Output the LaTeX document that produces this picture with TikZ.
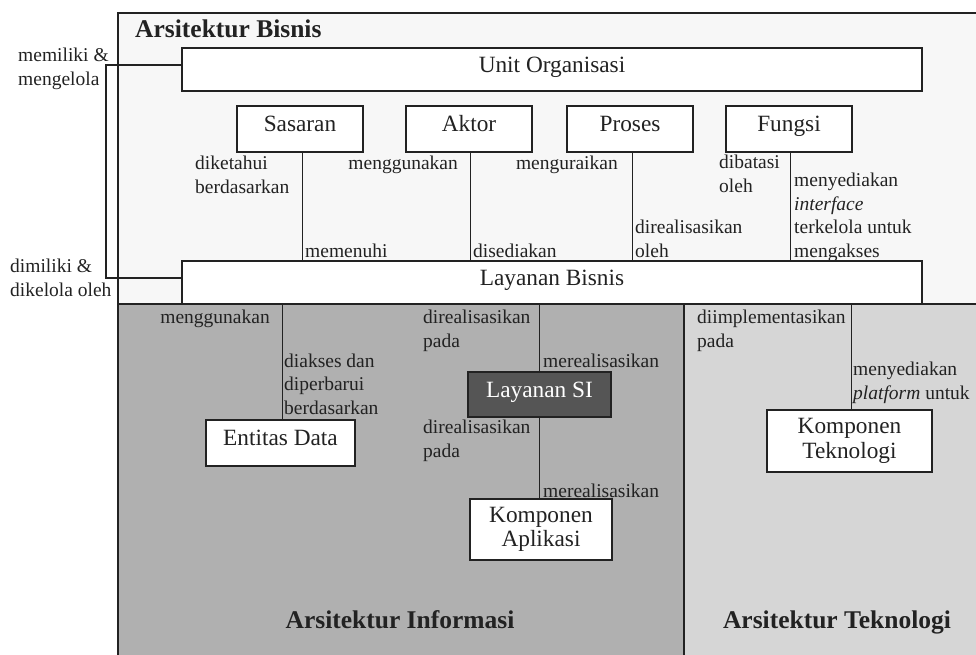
\documentclass[tikz,border=0pt]{standalone}
\usepackage{fontspec}
\setmainfont{Liberation Serif}
\newcommand\bxfnt{\fontsize{23.3}{24.5}\selectfont}
\newcommand\lbfnt{\fontsize{19.5}{23.5}\selectfont}
\newcommand\ttlfnt{\fontsize{25.5}{28}\selectfont\bfseries}
\definecolor{bizbg}{HTML}{F7F7F7}
\definecolor{infobg}{HTML}{B0B0B0}
\definecolor{techbg}{HTML}{D6D6D6}
\definecolor{sibg}{HTML}{555555}
\definecolor{ink}{HTML}{222222}
\begin{document}
\begin{tikzpicture}[x=1pt,y=-1pt,
  region/.style={draw=ink,line width=1.1pt},
  box/.style={draw=ink,fill=white,line width=1.1pt,inner sep=0pt,font=\bxfnt,text=ink,align=center},
  onebox/.style={box,text height=16pt,text depth=11pt},
  lbl/.style={inner sep=0pt,align=left,font=\lbfnt,text=ink},
  ttl/.style={inner sep=0pt,font=\ttlfnt,text=ink},
  conn/.style={draw=ink,line width=1pt}]
\useasboundingbox (0,0) rectangle (976,654);
% regions
\fill[bizbg] (118,13) rectangle (980,304);
\fill[infobg] (118,304) rectangle (684,660);
\fill[techbg] (684,304) rectangle (980,660);
\draw[region] (980,13) -- (118,13) -- (118,660);
\draw[region] (118,304) -- (980,304);
\draw[region] (684,304) -- (684,660);
% titles
\node[ttl,anchor=base west] (tBis) at (135,37) {Arsitektur Bisnis};
\node[ttl,anchor=base] (tInf) at (400,628) {Arsitektur Informasi};
\node[ttl,anchor=base] (tTek) at (837,628) {Arsitektur Teknologi};
% boxes
\node[onebox,minimum width=740pt,minimum height=43pt] (UO) at (552,69.5) {Unit Organisasi};
\node[onebox,minimum width=126pt,minimum height=46pt] (Sas) at (300,129) {Sasaran};
\node[onebox,minimum width=126pt,minimum height=46pt] (Akt) at (469,129) {Aktor};
\node[onebox,minimum width=126pt,minimum height=46pt] (Pro) at (630,129) {Proses};
\node[onebox,minimum width=126pt,minimum height=46pt] (Fun) at (789,129) {Fungsi};
\node[onebox,minimum width=740pt,minimum height=43pt] (LB) at (552,282.5) {Layanan Bisnis};
\node[onebox,minimum width=149pt,minimum height=46pt] (ED) at (280.5,443) {Entitas Data};
\node[onebox,fill=sibg,text=white,minimum width=143pt,minimum height=45pt] (LSI) at (539.5,394.5) {Layanan SI};
\node[box,minimum width=142pt,minimum height=61pt] (KA) at (541,529.5) {Komponen\\Aplikasi};
\node[box,minimum width=165pt,minimum height=62pt] (KT) at (849.5,441) {Komponen\\Teknologi};
% connectors
\draw[conn] ([xshift=2pt]Sas.south) -- ([xshift=2pt]Sas.south |- LB.north);
\draw[conn] ([xshift=1pt]Akt.south) -- ([xshift=1pt]Akt.south |- LB.north);
\draw[conn] ([xshift=2pt]Pro.south) -- ([xshift=2pt]Pro.south |- LB.north);
\draw[conn] ([xshift=1pt]Fun.south) -- ([xshift=1pt]Fun.south |- LB.north);
\draw[conn] ([xshift=1.5pt]ED.north |- LB.south) -- ([xshift=1.5pt]ED.north);
\draw[conn] (LSI.north |- LB.south) -- (LSI.north);
\draw[conn] (LSI.south) -- (LSI.south |- KA.north);
\draw[conn] ([xshift=1.5pt]KT.north |- LB.south) -- ([xshift=1.5pt]KT.north);
\coordinate (bt) at (106,65);
\coordinate (bb) at (106,278);
\draw[conn,line width=1.1pt] (bt -| UO.west) -- (bt) -- (bb) -- (bb -| LB.west);
% labels (base = last line)
\node[lbl,anchor=base west] (l1) at (195,193) {diketahui\\berdasarkan};
\node[lbl,anchor=base west] (l2) at (305,257) {memenuhi};
\node[lbl,anchor=base east] (l3) at (458,169) {menggunakan};
\node[lbl,anchor=base west] (l4) at (473,257) {disediakan};
\node[lbl,anchor=base east] (l5) at (618,169) {menguraikan};
\node[lbl,anchor=base west] (l6) at (635,257) {direalisasikan\\oleh};
\node[lbl,anchor=base west] (l7) at (719,192) {dibatasi\\oleh};
\node[lbl,anchor=base west] (l8) at (794,257) {menyediakan\\\textit{interface}\\terkelola untuk\\mengakses};
\node[lbl,anchor=base east] (l9) at (270,323) {menggunakan};
\node[lbl,anchor=base west] (l10) at (284,414) {diakses dan\\diperbarui\\berdasarkan};
\node[lbl,anchor=base west] (l11) at (423,347) {direalisasikan\\pada};
\node[lbl,anchor=base west] (l12) at (543,367) {merealisasikan};
\node[lbl,anchor=base west] (l13) at (423,457) {direalisasikan\\pada};
\node[lbl,anchor=base west] (l14) at (543,497) {merealisasikan};
\node[lbl,anchor=base west] (l15) at (697,347) {diimplementasikan\\pada};
\node[lbl,anchor=base west] (l16) at (853,399) {menyediakan\\\textit{platform} untuk};
\node[lbl,anchor=base west] (l17) at (18,85) {memiliki \&\\mengelola};
\node[lbl,anchor=base west] (l18) at (10,296) {dimiliki \&\\dikelola oleh};
\end{tikzpicture}
\end{document}
